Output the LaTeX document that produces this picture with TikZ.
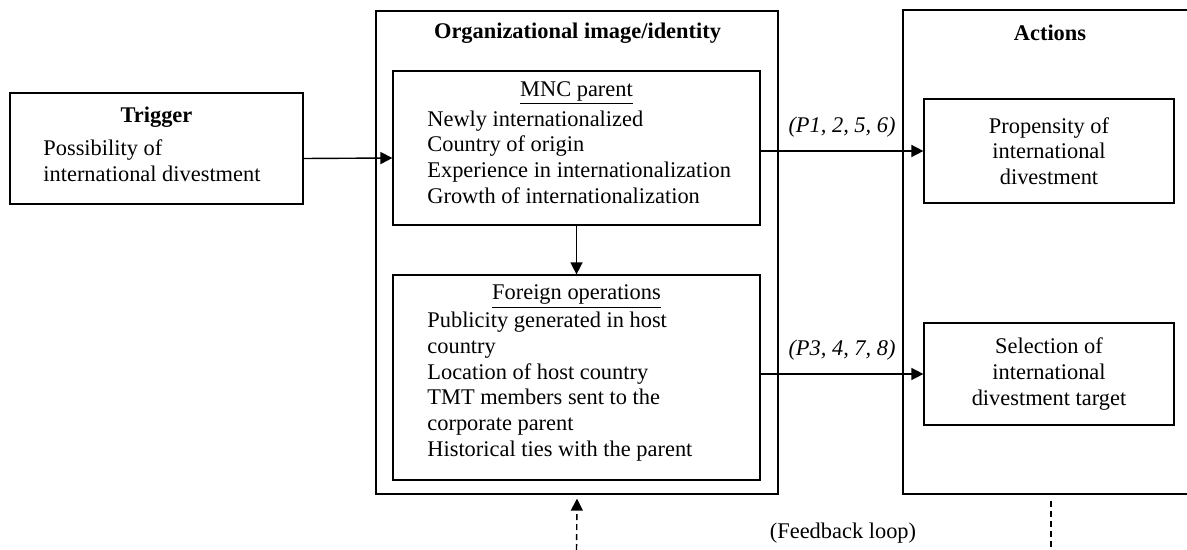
\documentclass[tikz,border=0pt]{standalone}
\usepackage{fontspec}
\setmainfont{Liberation Serif}
\usetikzlibrary{arrows.meta,positioning}
\tikzset{
  box/.style={draw, line width=0.6pt, inner sep=0pt},
  txt/.style={inner sep=0pt, align=left, anchor=west},
  arr/.style={-{Triangle[length=6pt,width=6pt]}, line width=0.7pt},
  fbline/.style={line width=0.7pt, dash pattern=on 3pt off 2pt},
}

\begin{document}
\begin{tikzpicture}[x=0.5pt, y=-0.5pt, font=\fontsize{11.2}{12.85}\selectfont]
      \useasboundingbox (0,0) rectangle (1187,550);
      \clip (0,0) rectangle (1187,550);

      \node[box, minimum width=146.5pt, minimum height=55.5pt] (trig) at (156.5,148.5) {};
      \node[box, minimum width=201pt, minimum height=241.5pt] (org) at (577,252.5) {};
      \node[box, minimum width=183.5pt, minimum height=77pt] (mnc) at (576.5,148) {};
      \node[box, minimum width=183.5pt, minimum height=102.5pt] (fops) at (576.5,377.5) {};
      \node[box, minimum width=148pt, minimum height=242pt] (act) at (1051,252) {};
      \node[box, minimum width=125pt, minimum height=52pt, align=center] (prop) at (1049,151) {Propensity of\\international\\divestment};
      \node[box, minimum width=125pt, minimum height=51pt, align=center] (sel) at (1049,374) {Selection of\\international\\divestment target};

      \node[inner sep=0pt] (trigT) at (156.5,117) {\textbf{Trigger}};
      \node[txt] (trigL) at (43,160.5) {Possibility of\\international divestment};
      \node[inner sep=0pt] (orgT) at (577.5,33) {\textbf{Organizational image/identity}};
      \node[inner sep=0pt] (mncT) at (576.5,93) {\underline{MNC parent}};
      \node[txt] (mncL) at (427,157) {Newly internationalized\\Country of origin\\Experience in internationalization\\Growth of internationalization};
      \node[inner sep=0pt] (fopsT) at (576.5,297) {\underline{Foreign operations}};
      \node[txt] (fopsL) at (427,386.5) {Publicity generated in host\\country\\Location of host country\\TMT members sent to the\\corporate parent\\Historical ties with the parent};
      \node[inner sep=0pt] (actT) at (1050,33) {\textbf{Actions}};
      \node[inner sep=0pt] (fbT) at (843,533) {(Feedback loop)};

      \coordinate (fbin) at (576.5,550);
      \coordinate (fbout) at (1051,550);

      \draw[arr] ([yshift=-5pt]trig.east) -- ([yshift=-5pt]mnc.west);
      \draw[arr] (prop.west -| mnc.east) -- node[above=3pt] {\itshape (P1, 2, 5, 6)} (prop.west);
      \draw[arr] (sel.west -| fops.east) -- node[above=3pt] {\itshape (P3, 4, 7, 8)} (sel.west);
      \draw[arr] (mnc.south) -- (fops.north);
      \draw[arr, fbline] (fbin) -- ([yshift=-2pt]org.south);
      \draw[fbline] ([yshift=-3pt]act.south) -- (fbout);
    \end{tikzpicture}
\end{document}
